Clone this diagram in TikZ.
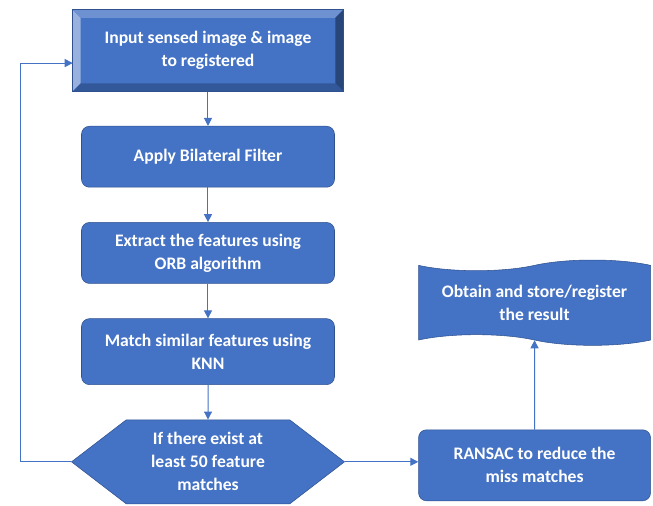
\documentclass[tikz,border=0pt]{standalone}
\usepackage{fontspec}
\setmainfont{Carlito}
\usetikzlibrary{positioning,chains,calc,shapes.symbols,arrows.meta}
\definecolor{boxblue}{HTML}{4472C4}
\definecolor{boxline}{HTML}{2F528F}
\tikzset{flow arrow/.style={-{Triangle[length=6pt,width=6pt]},draw=boxblue,line width=0.75pt},
flow text/.style={draw=boxline,fill=boxblue,text=white,font=\bfseries\fontsize{13.2}{17.25}\selectfont,align=center,inner sep=0pt},
flow node/.style={on chain,join=by flow arrow,flow text,rounded corners=6pt,minimum width=#1},
flow node/.default=189.75pt}

\begin{document}
\begin{tikzpicture}[start chain=going below,node distance=26pt]
\useasboundingbox (-156pt,37.9pt) rectangle (333.75pt,-341.6pt);
\node[flow node=202.5pt,rounded corners=0pt,minimum height=60.75pt] (input) at (0,0) {Input sensed image \& image\\ to registered};
\node[flow node,minimum height=45.75pt] (filter) {Apply Bilateral Filter};
\node[flow node,minimum height=45.75pt] (orb) {Extract the features using\\ ORB algorithm};
\node[flow node,minimum height=49.5pt] (knn) {Match similar features using\\ KNN};
\node[flow node=204.75pt,rounded corners=0pt,shape=signal,signal to=west and east,signal pointer angle=75,minimum height=63pt] (test) {If there exist at\\ least 50 feature\\ matches};
\node[flow text,rounded corners=6pt,minimum width=174pt,minimum height=53.25pt,right=55pt of test,yshift=-2.6pt] (ransac) {RANSAC to reduce the\\ miss matches};
\node[flow text,shape=tape,tape bend top=in and out,tape bend bottom=out and in,tape bend height=8pt,minimum width=174pt,minimum height=64pt,above=67pt of ransac] (result) {Obtain and store/register\\ the result};
% bevel of the input box
\fill[boxblue!55!white] (input.north west) -- (input.south west) -- ([shift={(6pt,6pt)}]input.south west) -- ([shift={(6pt,-6pt)}]input.north west) -- cycle;
\fill[boxblue!78!white] (input.north west) -- (input.north east) -- ([shift={(-6pt,-6pt)}]input.north east) -- ([shift={(6pt,-6pt)}]input.north west) -- cycle;
\fill[boxline!85!black] (input.north east) -- (input.south east) -- ([shift={(-6pt,6pt)}]input.south east) -- ([shift={(-6pt,-6pt)}]input.north east) -- cycle;
\fill[boxline!80!boxblue] (input.south west) -- (input.south east) -- ([shift={(-6pt,6pt)}]input.south east) -- ([shift={(6pt,6pt)}]input.south west) -- cycle;
\draw[boxline] (input.north west) rectangle (input.south east);
\draw[flow arrow] (test.west) -- ++(-38.25pt,0) |- ($(input.west)+(0,-9.4pt)$);
\draw[flow arrow] (test.east) -- (test.east -| ransac.west);
\draw[flow arrow] (ransac) -- (result);
\end{tikzpicture}
\end{document}
